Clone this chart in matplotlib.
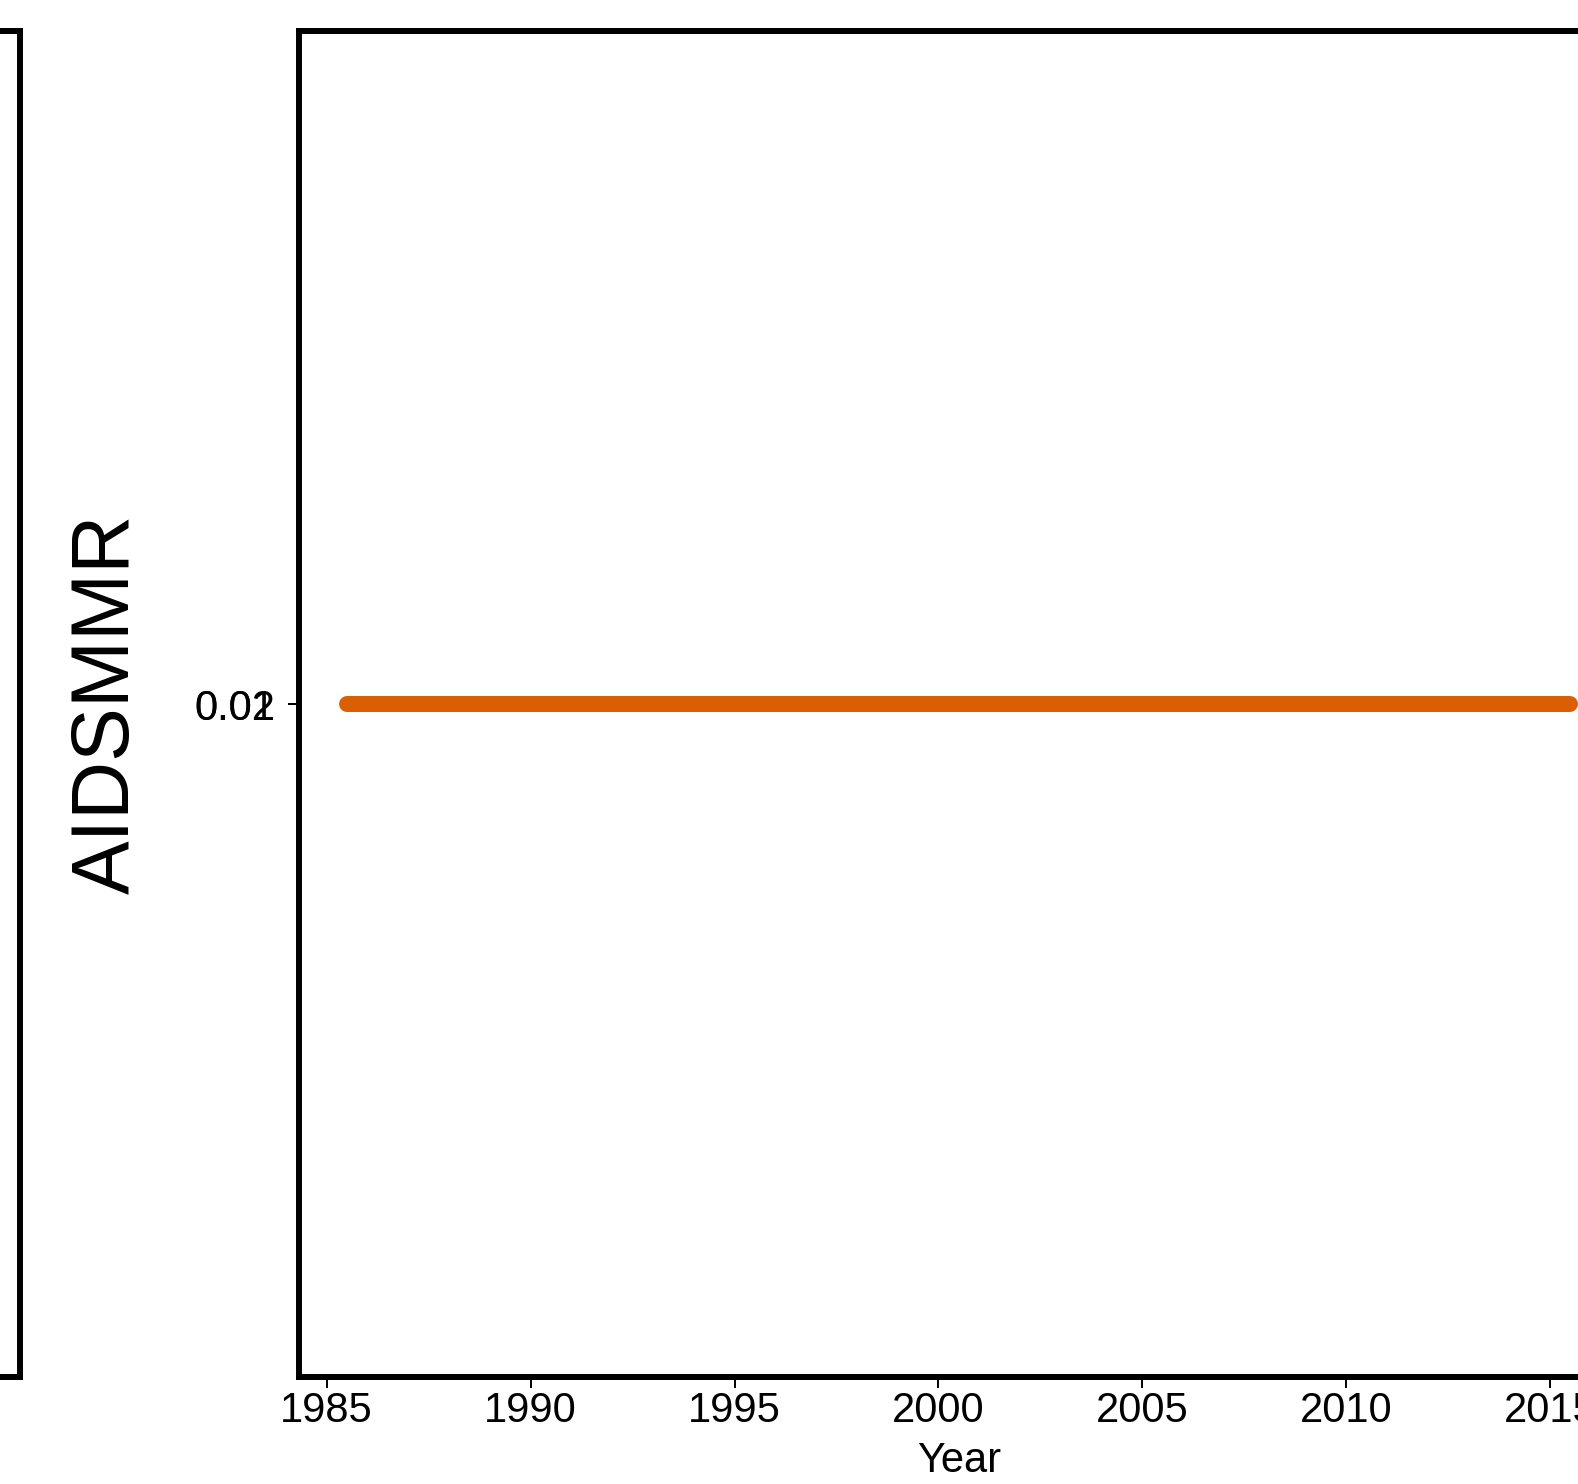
import matplotlib
matplotlib.use("Agg")
import matplotlib.pyplot as plt

plt.rcParams['font.family'] = ['Liberation Sans', 'DejaVu Sans']

# datos: AIDSMMR por año (todos cero)
years = [1985.5, 1986.5, 1987.5, 1988.5, 1989.5, 1990.5, 1991.5, 1992.5,
         1993.5, 1994.5, 1995.5, 1996.5, 1997.5, 1998.5, 1999.5, 2000.5,
         2001.5, 2002.5, 2003.5, 2004.5, 2005.5, 2006.5, 2007.5, 2008.5,
         2009.5, 2010.5, 2011.5, 2012.5, 2013.5, 2014.5, 2015.5]
aidsmmr = [0.0] * len(years)
xticks = [1985, 1990, 1995, 2000, 2005, 2010, 2015]
ytick_major = "0.01"
ytick_minor = "0.02"

fig = plt.figure(figsize=(15.78, 14.84), dpi=100)

# panel de la izquierda (cortado)
ax0 = fig.add_axes([-0.5, 0.0721, 0.5124, 0.9068])
ax0.set_xticks([])
ax0.set_yticks([])
for s in ax0.spines.values():
    s.set_linewidth(4.3)

# panel principal
ax = fig.add_axes([0.1892, 0.0721, 0.8368, 0.9068])
ax.plot(years, aidsmmr, color="#D95F02", lw=11.5, solid_capstyle="round")
ax.set_xlim(1984.31, 2016.69)
ax.set_ylim(-1, 1)
ax.set_xticks(xticks)
ax.set_xticklabels([str(x) for x in xticks], fontsize=30)

# etiquetas del eje y encimadas en el mismo punto
ax.yaxis.remove_overlapping_locs = False
ax.set_yticks([0])
ax.set_yticklabels([ytick_major], fontsize=30)
ax.set_yticks([0], minor=True)
ax.set_yticklabels([ytick_minor], minor=True, fontsize=30)
ax.tick_params(axis='x', length=8, width=1.4, pad=2)
ax.tick_params(axis='y', which='both', length=8, width=1.4, pad=9)
for s in ax.spines.values():
    s.set_linewidth(4.3)
ax.set_xlabel("Year", fontsize=30, labelpad=7)
ax.set_ylabel("AIDSMMR", fontsize=58)
ax.yaxis.set_label_coords(-0.1159, 0.5)

fig.savefig("out.png", dpi=100)
